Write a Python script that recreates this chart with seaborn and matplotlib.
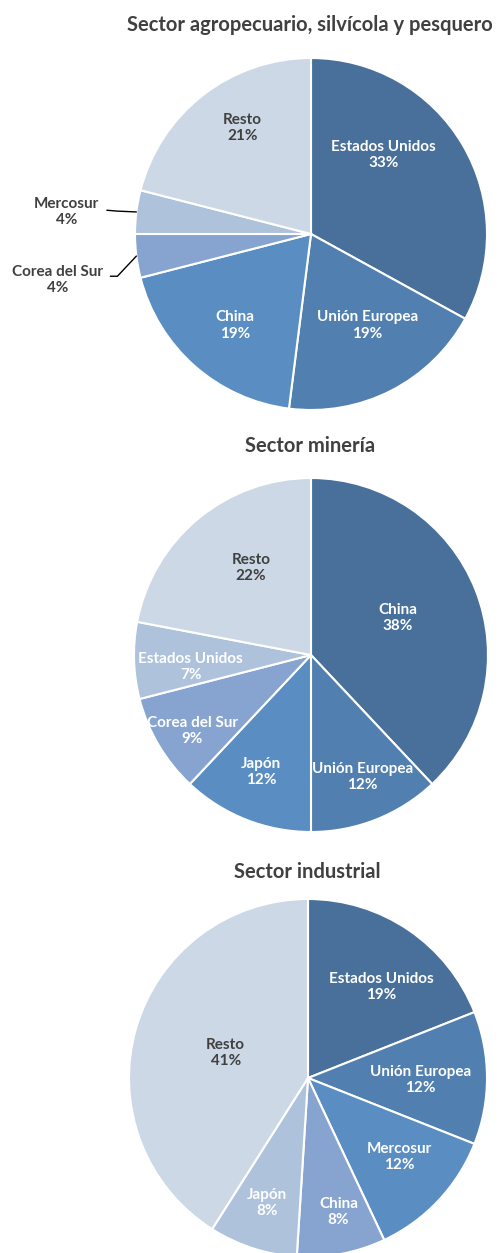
import numpy as np
import seaborn as sns
from matplotlib import pyplot as plt

# datos: participación de destinos por sector (%)
agro_labels = ["Estados Unidos", "Unión Europea", "China", "Corea del Sur", "Mercosur", "Resto"]
agro_values = [33, 19, 19, 4, 4, 21]

mineria_labels = ["China", "Unión Europea", "Japón", "Corea del Sur", "Estados Unidos", "Resto"]
mineria_values = [38, 12, 12, 9, 7, 22]

industria_labels = ["Estados Unidos", "Unión Europea", "Mercosur", "China", "Japón", "Resto"]
industria_values = [19, 12, 12, 8, 8, 41]

titles = ["Sector agropecuario, silvícola y pesquero", "Sector minería", "Sector industrial"]

sns.set_theme(style="white")
plt.rcParams['font.family'] = ['Lato', 'DejaVu Sans']

colores = ["#48709b", "#507fb0", "#5a8dc1", "#86a4cf", "#aec2dc", "#cdd8e6"]
oscuro = "#404040"

W, H = 501, 1253
fig = plt.figure(figsize=(W / 100, H / 100), dpi=100)

# posicion de cada torta en pixeles: centro x, centro y, radio
pies = [
    (agro_labels, agro_values, (311, 234, 176), (310, 25)),
    (mineria_labels, mineria_values, (311, 655, 177), (310, 446)),
    (industria_labels, industria_values, (308, 1078, 179), (307, 872)),
]

# posiciones de etiquetas (en unidades de radio)
label_pos = [
    [(0.41, 0.45), (0.32, -0.52), (-0.43, -0.52), (-1.44, -0.26), (-1.39, 0.125), (-0.39, 0.60)],
    [(0.49, 0.21), (0.29, -0.69), (-0.28, -0.66), (-0.67, -0.43), (-0.68, -0.07), (-0.34, 0.49)],
    [(0.41, 0.51), (0.63, -0.01), (0.51, -0.44), (0.17, -0.75), (-0.23, -0.70), (-0.46, 0.14)],
]
fuera = {(0, 3), (0, 4)}

for i, (labels, values, (cx, cy, r), (tx, ty)) in enumerate(pies):
    ax = fig.add_axes([(cx - r) / W, (H - cy - r) / H, 2 * r / W, 2 * r / H])
    wedges, _ = ax.pie(values, colors=colores, startangle=90, counterclock=False,
                       wedgeprops=dict(edgecolor="white", linewidth=1.5))
    ax.set_xlim(-1, 1)
    ax.set_ylim(-1, 1)
    ax.set_aspect("equal")
    ax.axis("off")
    for j, (lab, val) in enumerate(zip(labels, values)):
        x, y = label_pos[i][j]
        if (i, j) in fuera or lab == "Resto":
            col = oscuro
        else:
            col = "white"
        ax.text(x, y, f"{lab}\n{val}%", ha="center", va="center", color=col,
                fontsize=11, fontweight="bold", linespacing=1.2, clip_on=False)
        if (i, j) in fuera:
            w = wedges[j]
            ang = np.deg2rad((w.theta1 + w.theta2) / 2)
            ex, ey = np.cos(ang), np.sin(ang)
            if j == 3:
                xs, ys = [x + 0.3, x + 0.34, ex], [y + 0.02, y + 0.02, ey]
            else:
                xs, ys = [x + 0.23, x + 0.29, ex], [y + 0.01, y + 0.005, ey]
            ax.plot(xs, ys, color="black", lw=1, clip_on=False)
    fig.text(tx / W, 1 - ty / H, titles[i], ha="center", va="center",
             fontsize=14.5, fontweight="bold", color=oscuro)

fig.savefig("out.png", dpi=100)
